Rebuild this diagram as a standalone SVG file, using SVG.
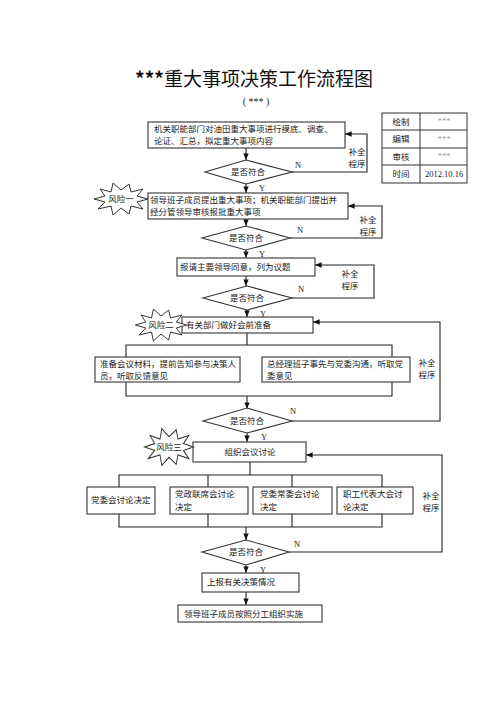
<svg xmlns="http://www.w3.org/2000/svg" width="500" height="707" viewBox="0 0 500 707">
<style>
.bx{fill:#fff;stroke:#333;stroke-width:1.1}
.dm{fill:#fff;stroke:#333;stroke-width:1.1}
.ln{fill:none;stroke:#222;stroke-width:1.1}
.t{font-family:"Noto Sans CJK SC","Liberation Sans",sans-serif;font-size:8.5px;fill:#222}
.c{text-anchor:middle}
.s{font-family:"Liberation Serif",serif;font-size:8.5px;fill:#222}
.g{fill:#999}
.star{fill:#fff;stroke:#333;stroke-width:1}
</style>
<defs>
<marker id="ar" viewBox="0 0 10 10" refX="10" refY="5" markerWidth="6" markerHeight="6" orient="auto">
<path d="M0,1 L10,5 L0,9 Z" fill="#111"/>
</marker>
<polygon id="burst" points="27,0 16,3 22,10 10,7 8,15 0,9 -8,16 -10,7 -23,10 -16,3 -27,0 -16,-3 -21,-10 -10,-7 -8,-16 0,-9 8,-15 10,-7 22,-10 16,-3"/>
</defs>
<rect width="500" height="707" fill="#fff"/>
<g id="title">
<text x="254" y="86" text-anchor="middle" font-family="Noto Sans CJK SC, sans-serif" font-size="19" fill="#111"><tspan font-weight="bold">***</tspan>重大事项决策工作流程图</text>
<text x="256" y="105" text-anchor="middle" font-family="Liberation Serif, serif" font-size="10" fill="#222">( *** )</text>
</g>
<g id="table">
<rect x="382" y="113" width="85" height="70" fill="none" stroke="#333" stroke-width="1"/>
<path d="M420,113V183 M382,130H467 M382,148H467 M382,165H467" stroke="#333" stroke-width="1" fill="none"/>
<text class="t c" x="401" y="125">绘制</text>
<text class="t c" x="401" y="142">编辑</text>
<text class="t c" x="401" y="160">审核</text>
<text class="t c" x="401" y="177">时间</text>
<text class="s c g" x="444" y="124">***</text>
<text class="s c g" x="444" y="142">***</text>
<text class="s c g" x="444" y="159">***</text>
<text class="s c" x="444" y="177">2012.10.16</text>
</g>
<g id="connectors">
<path class="ln" d="M246,148V160" marker-end="url(#ar)"/>
<path class="ln" d="M246,184V193" marker-end="url(#ar)"/>
<path class="ln" d="M292,172H367V134H345" marker-end="url(#ar)"/>
<path class="ln" d="M246,219V226" marker-end="url(#ar)"/>
<path class="ln" d="M246,250V258" marker-end="url(#ar)"/>
<path class="ln" d="M290,238H382V206H348" marker-end="url(#ar)"/>
<path class="ln" d="M246,276V286" marker-end="url(#ar)"/>
<path class="ln" d="M247,310V317" marker-end="url(#ar)"/>
<path class="ln" d="M292,298H374V265H315" marker-end="url(#ar)"/>
<path class="ln" d="M247,333V345 M126,357V345H392V357"/>
<path class="ln" d="M126,382V396H392V382"/>
<path class="ln" d="M247,396V409" marker-end="url(#ar)"/>
<path class="ln" d="M292,421H440V322H313" marker-end="url(#ar)"/>
<path class="ln" d="M247,433V442" marker-end="url(#ar)"/>
<path class="ln" d="M250,462V475 M119,487V475H382V487 M208,475V487 M292,475V487"/>
<path class="ln" d="M119,514V527H382V514 M208,514V527 M292,514V527"/>
<path class="ln" d="M246,527V540" marker-end="url(#ar)"/>
<path class="ln" d="M289,552H442V455H306" marker-end="url(#ar)"/>
<path class="ln" d="M246,565V573" marker-end="url(#ar)"/>
<path class="ln" d="M246,592V605" marker-end="url(#ar)"/>
<text class="s" x="295" y="168">N</text>
<text class="s" x="259" y="191">Y</text>
<text class="t c" x="357" y="155">补全</text>
<text class="t c" x="357" y="167">程序</text>
<text class="s" x="297" y="233">N</text>
<text class="s" x="259" y="257">Y</text>
<text class="t c" x="368" y="223">补全</text>
<text class="t c" x="368" y="235">程序</text>
<text class="s" x="298" y="292">N</text>
<text class="s" x="260" y="317">Y</text>
<text class="t c" x="350" y="277">补全</text>
<text class="t c" x="350" y="289">程序</text>
<text class="t c" x="427" y="366">补全</text>
<text class="t c" x="427" y="378">程序</text>
<text class="s" x="290" y="414">N</text>
<text class="s" x="261" y="440">Y</text>
<text class="t c" x="431" y="499">补全</text>
<text class="t c" x="431" y="511">程序</text>
<text class="s" x="294" y="547">N</text>
<text class="s" x="260" y="573">Y</text>
</g>
<g id="n1"><rect class="bx" x="148" y="122" width="197" height="26"/>
<text class="t" x="154" y="132">机关职能部门对油田重大事项进行摸底、调查、</text>
<text class="t" x="154" y="144">论证、汇总，拟定重大事项内容</text></g>
<g id="d1"><polygon class="dm" points="246,160 292,172 246,184 205,172"/><text class="t c" x="248" y="175">是否符合</text></g>
<g id="n2"><rect class="bx" x="148" y="193" width="200" height="26"/>
<text class="t" x="150" y="203">领导班子成员提出重大事项；机关职能部门提出并</text>
<text class="t" x="150" y="215">经分管领导审核报批重大事项</text></g>
<g id="d2"><polygon class="dm" points="246,226 290,238 246,250 202,238"/><text class="t c" x="246" y="241">是否符合</text></g>
<g id="n3"><rect class="bx" x="177" y="258" width="138" height="18"/>
<text class="t" x="180" y="270">报请主要领导同意，列为议题</text></g>
<g id="d3"><polygon class="dm" points="247,286 292,298 247,310 203,298"/><text class="t c" x="247" y="301">是否符合</text></g>
<g id="n4"><rect class="bx" x="182" y="317" width="131" height="16"/>
<text class="t" x="186" y="328">有关部门做好会前准备</text></g>
<g id="n5"><rect class="bx" x="95" y="357" width="145" height="25"/>
<text class="t" x="100" y="367">准备会议材料，提前告知参与决策人</text>
<text class="t" x="100" y="379">员，听取反馈意见</text></g>
<g id="n6"><rect class="bx" x="262" y="357" width="148" height="25"/>
<text class="t" x="267" y="367">总经理班子事先与党委沟通，听取党</text>
<text class="t" x="267" y="379">委意见</text></g>
<g id="d4"><polygon class="dm" points="247,408 292,421 247,433 203,421"/><text class="t c" x="247" y="424">是否符合</text></g>
<g id="n7"><rect class="bx" x="193" y="442" width="113" height="20"/>
<text class="t c" x="250" y="455">组织会议讨论</text></g>
<g id="n8"><rect class="bx" x="87" y="487" width="68" height="27"/>
<text class="t" x="91" y="503">党委会讨论决定</text></g>
<g id="n9"><rect class="bx" x="170" y="487" width="78" height="27"/>
<text class="t" x="175" y="497">党政联席会讨论</text>
<text class="t" x="175" y="510">决定</text></g>
<g id="n10"><rect class="bx" x="253" y="487" width="79" height="27"/>
<text class="t" x="260" y="497">党委常委会讨论</text>
<text class="t" x="260" y="510">决定</text></g>
<g id="n11"><rect class="bx" x="337" y="487" width="76" height="27"/>
<text class="t" x="343" y="497">职工代表大会讨</text>
<text class="t" x="343" y="510">论决定</text></g>
<g id="d5"><polygon class="dm" points="246,540 289,552 246,565 202,552"/><text class="t c" x="246" y="555">是否符合</text></g>
<g id="n12"><rect class="bx" x="202" y="573" width="97" height="19"/>
<text class="t" x="207" y="585">上报有关决策情况</text></g>
<g id="n13"><rect class="bx" x="178" y="605" width="144" height="17"/>
<text class="t" x="184" y="617">领导班子成员按照分工组织实施</text></g>
<g id="risk1"><use href="#burst" class="star" transform="translate(121,199)"/><text class="t c" x="121" y="202">风险一</text></g>
<g id="risk2"><use href="#burst" class="star" transform="translate(161,325) scale(0.95,1)"/><text class="t c" x="161" y="328">风险二</text></g>
<g id="risk3"><use href="#burst" class="star" transform="translate(169,447) scale(0.9,1.15)"/><text class="t c" x="169" y="450">风险三</text></g>
</svg>
